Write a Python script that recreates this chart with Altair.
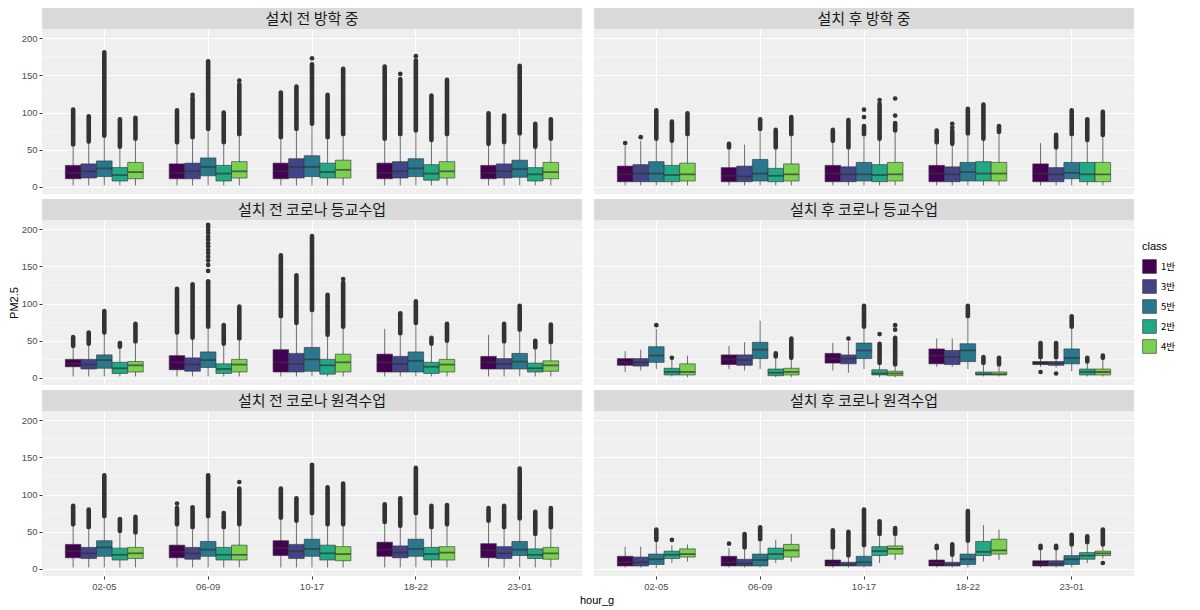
import altair as alt
import pandas as pd

HOURS = ["02-05", "06-09", "10-17", "18-22", "23-01"]
CLASSES = ["1반", "3반", "5반", "2반", "4반"]
COLORS = ["#440154", "#414487", "#2A788E", "#22A884", "#7AD151"]
PANELS = ["설치 전 방학 중", "설치 후 방학 중",
          "설치 전 코로나 등교수업", "설치 후 코로나 등교수업",
          "설치 전 코로나 원격수업", "설치 후 코로나 원격수업"]
N = None

# each list: 5 hour groups x 5 classes (1반, 3반, 5반, 2반, 4반)
# ---- 설치 전 방학 중
P1_LO = [2, 2, 2, 2, 2,  2, 2, 2, 2, 2,  2, 2, 2, 2, 2,  2, 2, 2, 2, 2,  2, 2, 2, 2, 2]
P1_Q1 = [11, 12, 14, 8, 11,  11, 11, 15, 8, 12,  11, 12, 14, 12, 12,  11, 12, 14, 9, 12,  11, 12, 13, 8, 11]
P1_MED = [19, 21, 25, 16, 20,  19, 21, 27, 18, 21,  21, 27, 27, 20, 23,  19, 21, 25, 18, 21,  19, 21, 24, 17, 20]
P1_Q3 = [29, 31, 35, 26, 33,  31, 32, 39, 29, 34,  32, 38, 42, 32, 36,  32, 34, 38, 30, 34,  29, 31, 36, 26, 33]
P1_HI = [54, 58, 66, 51, 62,  57, 64, 75, 57, 68,  64, 75, 82, 64, 68,  62, 68, 73, 60, 68,  55, 57, 69, 51, 62]
P1_TOP = [104, 95, 181, 91, 93,  103, 120, 167, 100, 138,  127, 135, 165, 124, 159,  162, 145, 170, 123, 144,  99, 96, 163, 85, 91]

# ---- 설치 후 방학 중
P2_LO = [2, 2, 2, 2, 2,  2, 2, 2, 2, 2,  2, 2, 2, 2, 2,  2, 2, 2, 2, 2,  2, 2, 2, 2, 2]
P2_Q1 = [7, 7, 7, 7, 8,  7, 7, 8, 7, 8,  7, 7, 8, 7, 8,  7, 7, 8, 8, 8,  7, 7, 11, 7, 7]
P2_MED = [17, 18, 18, 16, 17,  15, 14, 18, 15, 17,  18, 17, 17, 16, 17,  18, 17, 20, 18, 18,  18, 17, 19, 17, 17]
P2_Q3 = [28, 30, 34, 29, 32,  26, 28, 37, 25, 31,  29, 27, 33, 30, 33,  29, 27, 33, 34, 33,  31, 26, 33, 33, 33]
P2_HI = [55, 62, 62, 59, 68,  50, 57, 75, 50, 68,  59, 50, 68, 62, 73,  57, 55, 69, 62, 71,  59, 50, 68, 60, 67]
P2_TOP = [N, N, 103, 88, 99,  58, N, 91, 77, 94,  77, 90, 82, 112, 86,  76, 76, 105, 111, 82,  N, 70, 103, 91, 101]

# ---- 설치 전 코로나 등교수업
P3_LO = [2, 2, 2, 2, 2,  2, 2, 2, 2, 2,  2, 2, 2, 2, 2,  2, 2, 2, 2, 2,  2, 2, 2, 2, 2]
P3_Q1 = [15, 12, 13, 6, 8,  11, 9, 14, 6, 8,  8, 8, 9, 5, 8,  8, 8, 8, 6, 8,  12, 12, 12, 8, 9]
P3_MED = [19, 18, 24, 13, 17,  21, 18, 24, 12, 18,  21, 19, 25, 17, 21,  21, 19, 23, 15, 18,  21, 19, 22, 13, 17]
P3_Q3 = [25, 25, 31, 21, 22,  30, 27, 35, 19, 25,  38, 33, 41, 25, 32,  32, 29, 35, 21, 25,  29, 26, 33, 20, 23]
P3_HI = [40, 43, 58, 39, 46,  58, 51, 66, 43, 50,  80, 71, 88, 55, 66,  66, 57, 71, 43, 47,  58, 46, 62, 38, 45]
P3_TOP = [55, 61, 90, 47, 73,  120, 126, 130, 71, 96,  165, 138, 191, 112, 128,  N, 87, 103, 54, 73,  N, 73, 97, 50, 72]

# ---- 설치 후 코로나 등교수업
P4_LO = [8, 10, 12, 2, 1,  12, 10, 12, 1, 1,  10, 7, 12, 1, 1,  15, 15, 12, 2, 2,  15, 14, 9, 2, 2]
P4_Q1 = [17, 16, 21, 4, 4,  18, 17, 26, 3, 4,  20, 19, 26, 4, 3,  19, 18, 22, 4, 4,  18, 17, 19, 4, 4]
P4_MED = [21, 21, 30, 8, 8,  25, 24, 38, 7, 8,  26, 26, 37, 6, 6,  30, 28, 37, 5, 5,  20, 20, 27, 8, 8]
P4_Q3 = [26, 26, 42, 13, 19,  31, 31, 48, 12, 13,  33, 31, 47, 11, 9,  39, 37, 46, 8, 8,  22, 22, 39, 12, 12]
P4_HI = [36, 38, 66, 24, 30,  43, 48, 77, 26, 24,  47, 49, 66, 17, 15,  53, 53, 80, 17, 15,  25, 25, 66, 19, 24]
P4_TOP = [N, N, N, N, N,  N, N, N, 33, 53,  N, N, 97, 46, 54,  N, N, 97, 28, 27,  47, 47, 83, 27, 30]

# ---- 설치 전 코로나 원격수업
P5_LO = [2, 2, 2, 2, 2,  2, 2, 2, 2, 2,  2, 2, 2, 2, 2,  2, 2, 2, 2, 2,  2, 2, 2, 2, 2]
P5_Q1 = [15, 14, 17, 12, 14,  15, 13, 17, 12, 12,  18, 14, 17, 12, 11,  17, 15, 17, 12, 12,  15, 14, 18, 14, 13]
P5_MED = [24, 21, 29, 19, 21,  23, 21, 26, 19, 19,  28, 24, 27, 21, 20,  26, 22, 27, 20, 22,  25, 21, 26, 19, 21]
P5_Q3 = [33, 29, 38, 28, 29,  32, 29, 37, 29, 32,  38, 33, 40, 32, 30,  36, 31, 40, 29, 30,  34, 30, 37, 27, 29]
P5_HI = [57, 53, 68, 48, 46,  57, 53, 68, 53, 57,  66, 62, 72, 57, 57,  60, 55, 72, 53, 57,  62, 53, 65, 44, 53]
P5_TOP = [85, 80, 126, 67, 70,  82, 83, 126, 71, 108,  108, 95, 140, 110, 115,  87, 95, 136, 85, 86,  82, 85, 135, 77, 82]

# ---- 설치 후 코로나 원격수업
P6_LO = [2, 2, 1, 8, 10,  2, 2, 2, 8, 10,  2, 2, 2, 8, 12,  2, 2, 2, 10, 12,  2, 2, 2, 8, 14]
P6_Q1 = [4, 4, 6, 14, 16,  4, 4, 4, 13, 16,  4, 4, 4, 18, 20,  4, 4, 6, 18, 20,  4, 4, 6, 13, 18]
P6_MED = [9, 9, 13, 19, 20,  9, 7, 12, 20, 25,  7, 6, 9, 24, 27,  8, 6, 13, 23, 25,  7, 7, 13, 18, 21]
P6_Q3 = [17, 16, 20, 24, 27,  17, 13, 20, 28, 33,  12, 9, 17, 30, 31,  12, 9, 20, 37, 40,  11, 11, 18, 22, 24]
P6_HI = [30, 30, 36, 32, 33,  28, 26, 37, 39, 47,  26, 15, 29, 44, 44,  25, 16, 35, 59, 53,  25, 25, 30, 33, 30]
P6_TOP = [N, N, 53, N, N,  N, 47, 56, N, N,  52, 50, 80, 64, 55,  31, 33, 78, N, N,  31, 31, 46, 44, 53]

# isolated outlier points
PT_PANEL = [0, 0, 0, 0, 0, 0,
            1, 1, 1, 1, 1, 1, 1, 1, 1,
            2, 2, 2, 2, 2, 2, 2, 2, 2, 2, 2, 2, 2, 2, 2,
            3, 3, 3, 3, 3, 3, 3, 3,
            4, 4, 4,
            5, 5, 5]
PT_HOUR = ["06-09", "06-09", "06-09", "10-17", "18-22", "18-22",
           "02-05", "02-05", "10-17", "10-17", "10-17", "10-17", "10-17", "18-22", "18-22",
           "06-09", "06-09", "06-09", "06-09", "06-09", "06-09", "06-09", "06-09", "06-09", "06-09", "06-09", "06-09", "06-09", "06-09", "10-17",
           "02-05", "02-05", "10-17", "10-17", "10-17", "10-17", "23-01", "23-01",
           "06-09", "06-09", "06-09",
           "02-05", "06-09", "23-01"]
PT_CLASS = ["3반", "4반", "5반", "5반", "3반", "5반",
            "1반", "3반", "5반", "5반", "2반", "4반", "4반", "3반", "3반",
            "5반", "5반", "5반", "5반", "5반", "5반", "5반", "5반", "5반", "5반", "5반", "5반", "5반", "5반", "4반",
            "5반", "2반", "3반", "2반", "4반", "4반", "1반", "3반",
            "1반", "2반", "4반",
            "2반", "1반", "4반"]
PT_VAL = [124, 143, 169, 173, 152, 176,
          59, 67, 94, 104, 117, 96, 119, 80, 85,
          144, 152, 158, 163, 168, 172, 177, 181, 186, 190, 195, 199, 203, 206, 133,
          71, 27, 53, 59, 65, 71, 8, 6,
          88, 75, 117,
          39, 34, 8]

SETS = [
    (P1_LO, P1_Q1, P1_MED, P1_Q3, P1_HI, P1_TOP),
    (P2_LO, P2_Q1, P2_MED, P2_Q3, P2_HI, P2_TOP),
    (P3_LO, P3_Q1, P3_MED, P3_Q3, P3_HI, P3_TOP),
    (P4_LO, P4_Q1, P4_MED, P4_Q3, P4_HI, P4_TOP),
    (P5_LO, P5_Q1, P5_MED, P5_Q3, P5_HI, P5_TOP),
    (P6_LO, P6_Q1, P6_MED, P6_Q3, P6_HI, P6_TOP),
]

rows = []
for p, (lo, q1, med, q3, hi, top) in enumerate(SETS):
    for i in range(25):
        rows.append(dict(panel=PANELS[p], hour=HOURS[i // 5], cls=CLASSES[i % 5],
                         lo=lo[i], q1=q1[i], med=med[i], q3=q3[i], hi=hi[i],
                         top=(float("nan") if top[i] is None else top[i])))
box_df = pd.DataFrame(rows)
pt_df = pd.DataFrame(dict(panel=[PANELS[i] for i in PT_PANEL], hour=PT_HOUR,
                          cls=PT_CLASS, val=PT_VAL))
MINOR = pd.DataFrame(dict(v=[25, 75, 125, 175]))

W, H = 540, 165
KFONT = "Noto Sans CJK KR"
LFONT = "Liberation Sans"
DARK = "#333333"

xscale = alt.Scale(domain=HOURS, paddingInner=0.25, paddingOuter=0.225)
yscale = alt.Scale(domain=[-9.5, 212.5], nice=False, zero=False)
oscale = alt.Scale(domain=CLASSES, paddingInner=0, paddingOuter=0)
cscale = alt.Scale(domain=CLASSES, range=COLORS)


def make_panel(p, show_y, show_x, ytitle):
    xaxis = alt.Axis(title=None, labels=show_x, ticks=show_x, domain=False, grid=True,
                     bandPosition=0.5, tickSize=3, tickColor=DARK, labelColor="#4D4D4D",
                     labelFont=LFONT, labelFontSize=9.5, labelPadding=2,
                     gridColor="white", gridWidth=1.1, labelAngle=0)
    yaxis = alt.Axis(title=ytitle if ytitle else None, labels=show_y, ticks=show_y, domain=False,
                     grid=True, values=[0, 50, 100, 150, 200], tickSize=3, tickColor=DARK,
                     labelColor="#4D4D4D", labelFont=LFONT, labelFontSize=9.5, labelPadding=2,
                     gridColor="white", gridWidth=1.1, titleFont=LFONT, titleFontSize=11,
                     titleFontWeight="normal", titleColor="black", titlePadding=2)
    X = alt.X("hour:N", scale=xscale, axis=xaxis)
    XO = alt.XOffset("cls:N", scale=oscale)

    def Y(f):
        return alt.Y(f"{f}:Q", scale=yscale, axis=yaxis)

    name = PANELS[p]
    d = box_df[box_df.panel == name]
    pts = pt_df[pt_df.panel == name]
    base = alt.Chart(d)

    minor = alt.Chart(MINOR).mark_rule(color="white", strokeWidth=0.5).encode(y=Y("v"))
    whisk = base.mark_rule(color=DARK, strokeWidth=0.7).encode(
        x=X, xOffset=XO, y=Y("lo"), y2="hi:Q")
    streak = base.transform_filter("isValid(datum.top) && datum.top > 0").transform_calculate(
        s0="datum.hi + 3").mark_rule(color=DARK, strokeWidth=4.6, strokeCap="round").encode(
        x=X, xOffset=XO, y=Y("s0"), y2="top:Q")
    boxes = base.mark_bar(stroke=DARK, strokeWidth=0.6).encode(
        x=X, xOffset=XO, y=Y("q1"), y2="q3:Q",
        color=alt.Color("cls:N", scale=cscale, legend=alt.Legend(
            title="class", orient="none", legendX=1100, legendY=212,
            symbolType="square", symbolSize=190, symbolStrokeColor=DARK,
            symbolStrokeWidth=0.6, symbolOpacity=1, labelFont=KFONT, labelFontSize=9.5,
            titleFont=LFONT, titleFontSize=11, titleFontWeight="normal",
            titleColor="black", labelColor="black", rowPadding=3, titlePadding=7)))
    med = base.mark_tick(color=DARK, thickness=1.8, size=15.5).encode(
        x=X, xOffset=XO, y=Y("med"))
    layers = [minor, whisk, streak, boxes, med]
    if len(pts):
        layers.append(alt.Chart(pts).mark_circle(color=DARK, size=22, opacity=1).encode(
            x=X, xOffset=XO, y=Y("val")))
    sdf = pd.DataFrame(dict(t=[name]))
    strip = alt.Chart(sdf).mark_rect(color="#DADADA").encode(
        x=alt.value(0), x2=alt.value(W), y=alt.value(-21), y2=alt.value(0))
    stext = alt.Chart(sdf).mark_text(font=KFONT, fontSize=15, color="#1A1A1A",
                                     align="center", baseline="middle").encode(
        x=alt.value(W / 2), y=alt.value(-10.5), text="t:N")
    layers += [strip, stext]
    return alt.layer(*layers).properties(width=W, height=H)


panels = []
for p in range(6):
    panels.append(make_panel(p, show_y=(p % 2 == 0), show_x=(p >= 4),
                             ytitle=("PM2.5" if p == 2 else None)))

chart = alt.concat(*panels, columns=2, spacing={"row": 5, "column": 10}, align="each").properties(
    background="white", padding={"left": 0, "top": 0, "right": 0, "bottom": 0},
    title=alt.TitleParams("hour_g", orient="bottom", anchor="middle", font=LFONT,
                          fontSize=11, fontWeight="normal", color="black", offset=4, dx=5)
).configure_view(fill="#EFEFEF", stroke=None)

chart.save("out.html", embed_options={"renderer": "svg", "actions": False})
